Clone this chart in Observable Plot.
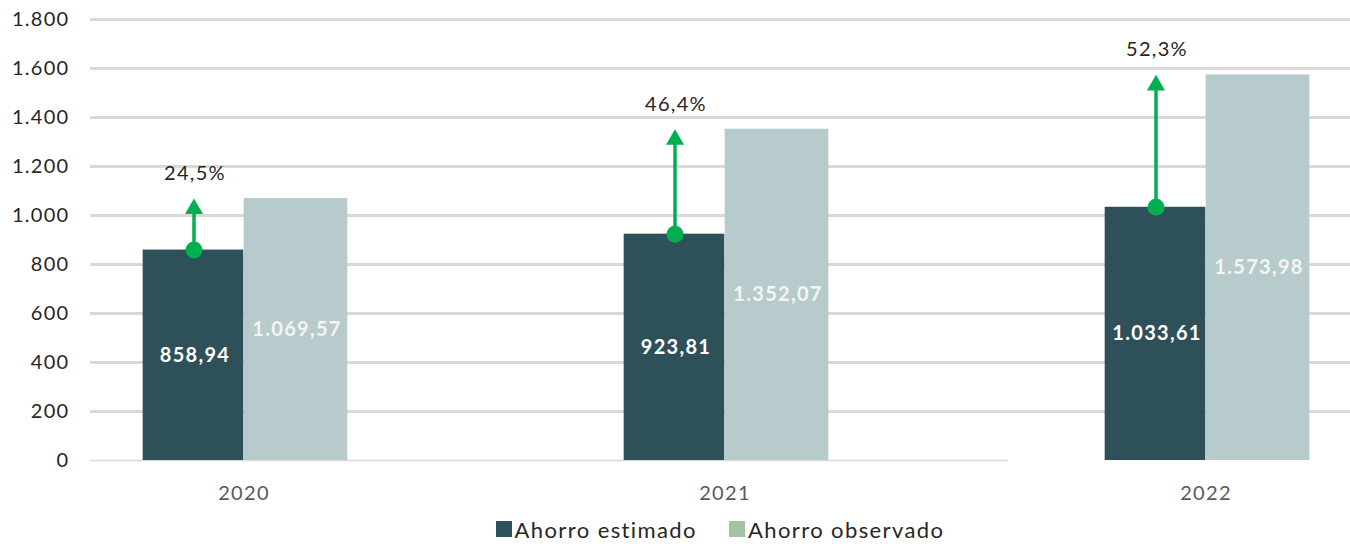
<!DOCTYPE html>
<html>
<head>
<meta charset="utf-8">
<script src="https://cdn.jsdelivr.net/npm/d3@7"></script>
<script src="https://cdn.jsdelivr.net/npm/@observablehq/plot@0.6"></script>
<style>
  body { margin: 0; background: #fff; font-family: Lato, "Open Sans", sans-serif; }
  #legend { display: flex; justify-content: center; align-items: center; margin-left: 90px; height: 38px; font-size: 22px; letter-spacing: 1.4px; color: #262626; gap: 32px; }
  .item { display: flex; align-items: center; gap: 3px; }
  .sw { width: 16px; height: 16px; display: inline-block; }
</style>
</head>
<body>
<div id="chart"></div>
<div id="legend"></div>
<script>
const years = ["2020", "2021", "2022"];
const estimado = [858.94, 923.81, 1033.61];
const observado = [1069.57, 1352.07, 1573.98];
const pct = [24.5, 46.4, 52.3];
const yTicks = [0, 200, 400, 600, 800, 1000, 1200, 1400, 1600, 1800];
const series = ["Ahorro estimado", "Ahorro observado"];
const barColors = ["#2e5059", "#b8cbcc"];
const legendColors = ["#2e5059", "#a3c4a3"];

const data = years.map((y, i) => ({year: y, est: estimado[i], obs: observado[i], pct: pct[i]}));
const loc = d3.formatLocale({decimal: ",", thousands: ".", grouping: [3], currency: ["", ""]});
const fmt2 = loc.format(",.2f");
const fmt0 = loc.format(",.0f");
const fmtPct = d => loc.format(".1f")(d) + "%";

const W = 1350;
const half = 240.675;
const bwDark = 101;
const bwLight = 104;
const font = "Lato, 'Open Sans', sans-serif";

const chart = Plot.plot({
  width: W,
  height: 510,
  marginTop: 19,
  marginBottom: 50,
  marginLeft: 90,
  marginRight: 0,
  style: {fontFamily: font, background: "#fff", letterSpacing: "1.3px"},
  x: {type: "band", domain: years, range: [243.3 - half, 1206 + half], padding: 0, label: null},
  y: {domain: [0, 1800], label: null},
  marks: [
    Plot.ruleY(yTicks.filter(d => d > 0), {stroke: "#d9d9d9", strokeWidth: 3}),
    Plot.ruleY([0], {stroke: "#d9d9d9", strokeWidth: 1.5, insetRight: W - 1008}),
    Plot.axisY({ticks: yTicks, tickSize: 0, tickPadding: 21, tickFormat: fmt0, fontSize: 20, color: "#262626", label: null}),
    Plot.axisX({tickSize: 0, tickPadding: 25, fontSize: 20, color: "#595959", label: null}),
    Plot.barY(data, {x: "year", y: "est", fill: barColors[0], insetLeft: half - bwDark, insetRight: half}),
    Plot.barY(data, {x: "year", y: "obs", fill: barColors[1], insetLeft: half, insetRight: half - bwLight}),
    Plot.text(data, {x: "year", y: d => d.est / 2, text: d => fmt2(d.est), dx: -49, fill: "#ffffff", fontSize: 20, fontWeight: "bold"}),
    Plot.text(data, {x: "year", y: d => d.obs / 2, text: d => fmt2(d.obs), dx: 53, fill: "#f4f4f4", fontSize: 20, fontWeight: "bold"}),
    Plot.ruleX(data, {x: "year", y1: "obs", y2: "est", dx: -50, stroke: "#00b050", strokeWidth: 3.5, insetTop: 12}),
    Plot.dot(data, {x: "year", y: "obs", dx: -50, dy: 10.4, symbol: "triangle", r: 6.7, fill: "#00b050", stroke: "none"}),
    Plot.dot(data, {x: "year", y: "est", dx: -50, r: 8.5, fill: "#00b050", stroke: "none"}),
    Plot.text(data, {x: "year", y: "obs", dx: -49, dy: -25, text: d => fmtPct(d.pct), fill: "#262626", fontSize: 20})
  ]
});
document.getElementById("chart").appendChild(chart);

const legend = document.getElementById("legend");
series.forEach((s, i) => {
  const it = document.createElement("span");
  it.className = "item";
  const sw = document.createElement("span");
  sw.className = "sw";
  sw.style.background = legendColors[i];
  const t = document.createElement("span");
  t.textContent = s;
  it.appendChild(sw);
  it.appendChild(t);
  legend.appendChild(it);
});
</script>
</body>
</html>
